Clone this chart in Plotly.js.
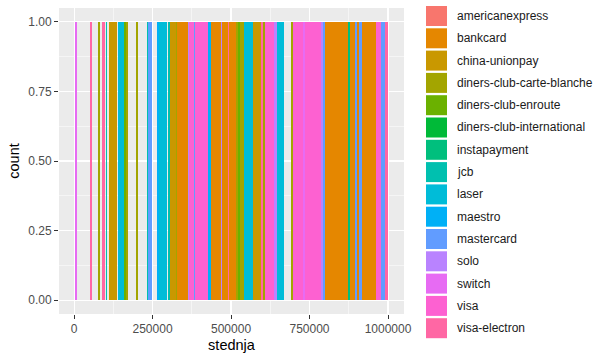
<!DOCTYPE html>
<html>
<head>
<meta charset="utf-8">
<script src="https://cdn.plot.ly/plotly-3.0.1.min.js"></script>
<style>html,body{margin:0;padding:0;background:#fff;}#chart{width:606px;height:354px;}</style>
</head>
<body>
<div id="chart"></div>
<script>
// ---- data ----
const cards = ["americanexpress","bankcard","china-unionpay","diners-club-carte-blanche","diners-club-enroute","diners-club-international","instapayment","jcb","laser","maestro","mastercard","solo","switch","visa","visa-electron"];
const segFrom = [2000,52000,75000,90000,103000,110000,141000,159000,164000,197000,232000,237000,264000,270000,299000,307000,324000,328000,362000,367000,381000,385000,426000,435000,467000,472000,490000,495000,515000,521000,528000,540000,570000,596000,603000,608000,638000,646000,690000,696000,728000,735000,786000,794000,800000,873000,879000,894000,902000,908000,916000,961000,978000,991000];
const segTo   = [8000,57000,82000,100000,106000,137000,158000,164000,171000,203000,237000,248000,270000,296000,307000,324000,328000,362000,367000,381000,385000,426000,435000,467000,472000,490000,495000,515000,521000,528000,540000,570000,596000,603000,608000,638000,646000,668000,696000,728000,735000,786000,794000,800000,873000,879000,894000,902000,908000,916000,961000,978000,991000,1001000];
const segCard = ["switch","visa-electron","diners-club-carte-blanche","visa-electron","jcb","china-unionpay","laser","diners-club-enroute","diners-club-carte-blanche","diners-club-carte-blanche","jcb","mastercard","maestro","laser","jcb","china-unionpay","diners-club-carte-blanche","bankcard","solo","visa","mastercard","visa","maestro","bankcard","solo","bankcard","visa-electron","bankcard","diners-club-carte-blanche","diners-club-enroute","diners-club-carte-blanche","laser","china-unionpay","visa-electron","diners-club-carte-blanche","visa","solo","laser","diners-club-carte-blanche","visa","switch","visa","solo","mastercard","bankcard","instapayment","bankcard","mastercard","bankcard","mastercard","bankcard","visa","mastercard","visa-electron"];
const segCount = segFrom.map(() => 1);
const xTicks = [0, 250000, 500000, 750000, 1000000];
const yTicks = [0, 0.25, 0.5, 0.75, 1];

// ---- style ----
const palette = ["#F8766D","#E58700","#C99800","#A3A500","#6BB100","#00BA38","#00BF7D","#00C0AF","#00BCD8","#00B0F6","#619CFF","#B983FF","#E76BF3","#FD61D1","#FF67A4"];

const traces = cards.map((c, ci) => {
  const idx = segCard.map((s, i) => s === c ? i : -1).filter(i => i >= 0);
  return {
    type: 'bar', name: c,
    x: idx.map(i => (segFrom[i] + segTo[i]) / 2),
    width: idx.map(i => segTo[i] - segFrom[i]),
    y: idx.map(i => segCount[i]),
    marker: {color: palette[ci], line: {width: 0}},
    showlegend: false, hoverinfo: 'skip'
  };
});

const M = {l: 59, r: 202, t: 8, b: 40};
const W = 606, H = 354;
const pw = W - M.l - M.r, ph = H - M.t - M.b;
const px2paper = x => (x - M.l) / pw;
const py2paper = y => 1 - (y - M.t) / ph;

const shapes = [], annotations = [];
cards.forEach((c, i) => {
  const top = 6 + i * 22.3;
  shapes.push({type: 'rect', xref: 'paper', yref: 'paper',
    x0: px2paper(426), x1: px2paper(447), y0: py2paper(top), y1: py2paper(top + 20),
    fillcolor: palette[i], line: {width: 0}});
  annotations.push({xref: 'paper', yref: 'paper', x: px2paper(455), y: py2paper(top + 10),
    xanchor: 'left', yanchor: 'middle', showarrow: false, text: c,
    font: {family: 'Liberation Sans, Arial, sans-serif', size: 12, color: '#1A1A1A'}});
});

const tickFont = {family: 'Liberation Sans, Arial, sans-serif', size: 12, color: '#4D4D4D'};
const layout = {
  width: W, height: H, margin: M,
  paper_bgcolor: '#FFFFFF', plot_bgcolor: '#EBEBEB',
  barmode: 'overlay', bargap: 0,
  font: {family: 'Liberation Sans, Arial, sans-serif'},
  xaxis: {
    range: [-47950, 1050950], tickmode: 'array', tickvals: xTicks, ticktext: xTicks.map(String),
    ticks: 'outside', ticklen: 4, tickwidth: 1, tickcolor: '#333333', tickfont: tickFont,
    showgrid: true, gridcolor: '#FFFFFF', gridwidth: 1.1, zeroline: false, showline: false,
    minor: {tickmode: 'array', tickvals: [-125000, 125000, 375000, 625000, 875000], showgrid: true, gridcolor: '#FFFFFF', gridwidth: 0.5, ticks: ''},
    title: {text: 'stednja', standoff: 4, font: {size: 14.5, color: '#000000'}},
    automargin: false, fixedrange: true
  },
  yaxis: {
    range: [-0.05, 1.05], tickmode: 'array', tickvals: yTicks, ticktext: yTicks.map(v => v.toFixed(2)),
    ticks: 'outside', ticklen: 4, tickwidth: 1, tickcolor: '#333333', tickfont: tickFont,
    showgrid: true, gridcolor: '#FFFFFF', gridwidth: 1.1, zeroline: false, showline: false,
    minor: {tickmode: 'array', tickvals: [0.125, 0.375, 0.625, 0.875], showgrid: true, gridcolor: '#FFFFFF', gridwidth: 0.5, ticks: ''},
    title: {text: 'count', standoff: 5, font: {size: 14.5, color: '#000000'}},
    automargin: false, fixedrange: true
  },
  shapes: shapes, annotations: annotations
};

Plotly.newPlot('chart', traces, layout, {staticPlot: true, displayModeBar: false});
</script>
</body>
</html>
